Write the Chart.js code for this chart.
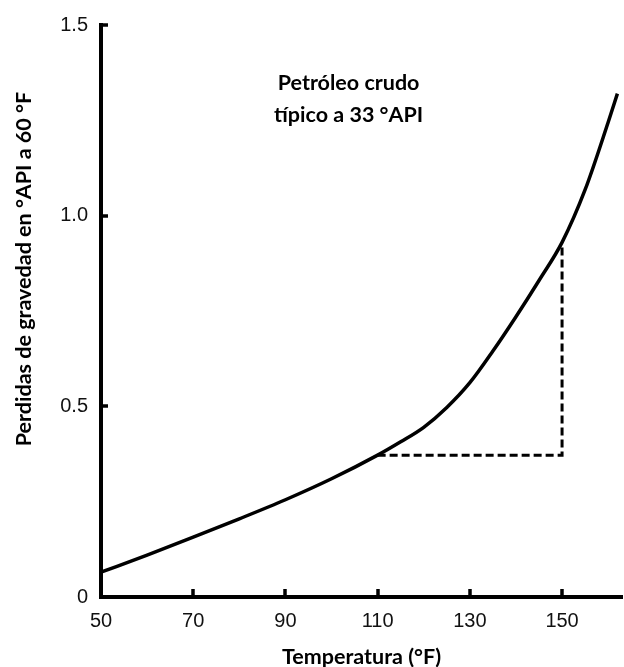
<!DOCTYPE html>
<html>
<head>
<meta charset="utf-8">
<script src="https://cdn.jsdelivr.net/npm/chart.js@4.4.1/dist/chart.umd.min.js"></script>
<style>
  body { margin: 0; background: #fff; }
</style>
</head>
<body>
<canvas id="chart" width="624" height="667"></canvas>
<script>
// temperatura (°F) and perdidas de gravedad (°API a 60 °F)
const temps  = [50, 60, 70, 80, 90, 100, 110, 115, 120, 125, 130, 135, 140, 145, 150, 155, 160, 162];
const losses = [0.065, 0.11, 0.157, 0.205, 0.255, 0.31, 0.372, 0.407, 0.445, 0.497, 0.562, 0.645, 0.735, 0.83, 0.93, 1.068, 1.245, 1.32];

// dashed guide: 110 °F -> 150 °F
const guideX = [110, 150, 150];
const guideY = [0.372, 0.372, 0.92];

const xTicks = [50, 70, 90, 110, 130, 150];
const yTicks = [0, 0.5, 1.0, 1.5];
const yTickLabels = ['0', '0.5', '1.0', '1.5'];

const xTitle = 'Temperatura (°F)';
const yTitle = 'Perdidas de gravedad en °API a 60 °F';
const noteLines = ['Petróleo crudo', 'típico a 33 °API'];
const noteAt = { x: 103.7, y: [1.347, 1.265] };

const titleFont = 'bold 21.5px Lato';
const tickFont = { family: '"Liberation Sans", Arial, sans-serif', size: 20 };

const extras = {
    id: 'extras',
    afterDraw(chart) {
        const { ctx, chartArea, scales: { x, y } } = chart;
        ctx.save();

        // inward tick marks
        ctx.strokeStyle = '#000';
        ctx.lineWidth = 3.5;
        x.ticks.forEach(t => {
            if (t.value === x.min) return;
            const px = Math.round(x.getPixelForValue(t.value));
            ctx.beginPath();
            ctx.moveTo(px, chartArea.bottom);
            ctx.lineTo(px, chartArea.bottom - 8);
            ctx.stroke();
        });
        y.ticks.forEach(t => {
            if (t.value === y.min) return;
            const py = Math.round(y.getPixelForValue(t.value));
            ctx.beginPath();
            ctx.moveTo(chartArea.left, py);
            ctx.lineTo(chartArea.left + 7, py);
            ctx.stroke();
        });

        // y axis title (sits higher than centre in the original)
        ctx.fillStyle = '#000';
        ctx.font = titleFont;
        ctx.textAlign = 'center';
        ctx.textBaseline = 'middle';
        ctx.save();
        ctx.translate(24, y.getPixelForValue(0.86));
        ctx.rotate(-Math.PI / 2);
        ctx.fillText(yTitle, 0, 0);
        ctx.restore();

        // note
        noteLines.forEach((line, i) => {
            ctx.fillText(line, x.getPixelForValue(noteAt.x), y.getPixelForValue(noteAt.y[i]));
        });

        ctx.restore();
    }
};

new Chart(document.getElementById('chart').getContext('2d'), {
    type: 'line',
    data: {
        datasets: [
            {
                data: temps.map((t, i) => ({ x: t, y: losses[i] })),
                borderColor: '#000',
                borderWidth: 3.5,
                pointRadius: 0,
                cubicInterpolationMode: 'monotone',
                fill: false
            },
            {
                data: guideX.map((t, i) => ({ x: t, y: guideY[i] })),
                borderColor: '#000',
                borderWidth: 3,
                borderDash: [8, 4],
                pointRadius: 0,
                tension: 0,
                fill: false
            }
        ]
    },
    options: {
        responsive: false,
        animation: false,
        layout: { padding: { top: 17, right: 2, left: 0, bottom: 0 } },
        plugins: {
            legend: { display: false },
            tooltip: { enabled: false }
        },
        scales: {
            x: {
                type: 'linear',
                min: 50,
                max: 163,
                afterBuildTicks: scale => { scale.ticks = xTicks.map(v => ({ value: v })); },
                afterFit: scale => { scale.height = 70; },
                grid: { display: false, drawTicks: false },
                border: { display: true, color: '#000', width: 4 },
                ticks: {
                    color: '#111',
                    padding: 12,
                    maxRotation: 0,
                    font: tickFont
                },
                title: {
                    display: true,
                    text: xTitle,
                    color: '#000',
                    padding: { top: 0, bottom: -3 },
                    font: { family: 'Lato', weight: 'bold', size: 21.5 }
                }
            },
            y: {
                min: 0,
                max: 1.5,
                afterBuildTicks: scale => { scale.ticks = yTicks.map(v => ({ value: v })); },
                afterFit: scale => { scale.width = 101; },
                grid: { display: false, drawTicks: false },
                border: { display: true, color: '#000', width: 4 },
                ticks: {
                    color: '#111',
                    padding: 13,
                    callback: v => yTickLabels[yTicks.indexOf(v)],
                    font: tickFont
                }
            }
        }
    },
    plugins: [extras]
});
</script>
</body>
</html>
